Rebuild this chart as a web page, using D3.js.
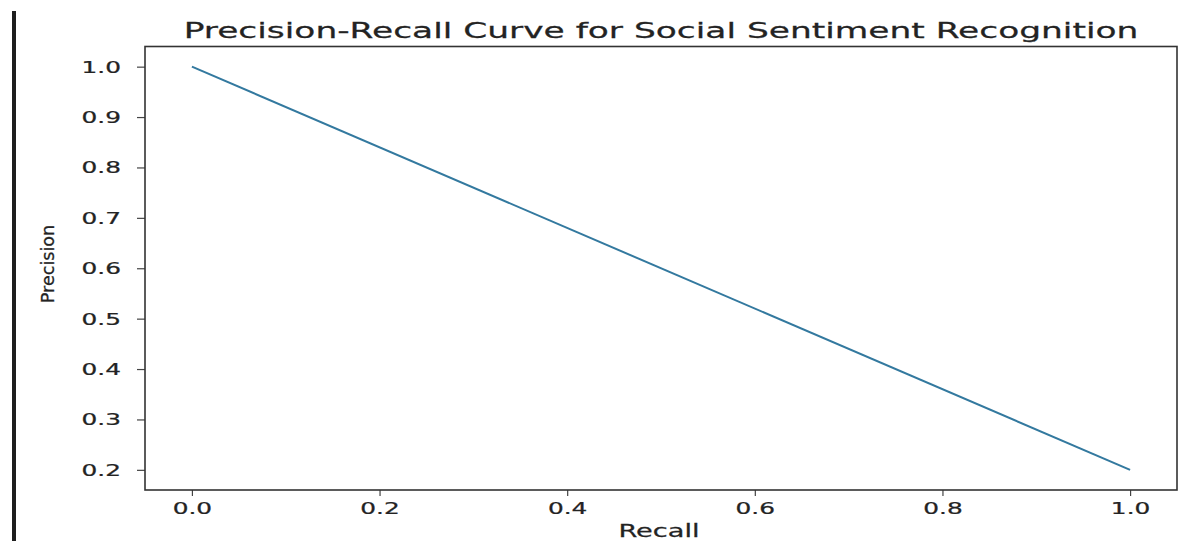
<!DOCTYPE html>
<html>
<head>
<meta charset="utf-8">
<script src="https://cdn.jsdelivr.net/npm/d3@7"></script>
<style>
  html, body { margin: 0; padding: 0; background: #fff; }
  svg { display: block; }
  text { font-family: "DejaVu Sans", sans-serif; fill: #232323; stroke: #232323; stroke-width: 0.25px; }
</style>
</head>
<body>
<svg id="chart" width="1183" height="541"></svg>
<script>
// Precision-recall curve data
const recall = [0.0, 1.0];
const precision = [1.0, 0.2];

const xTicks = [0.0, 0.2, 0.4, 0.6, 0.8, 1.0];
const yTicks = [0.2, 0.3, 0.4, 0.5, 0.6, 0.7, 0.8, 0.9, 1.0];

const titleText = "Precision-Recall Curve for Social Sentiment Recognition";
const xLabel = "Recall";
const yLabel = "Precision";

const W = 1183, H = 541;
const plot = { left: 145, right: 1177, top: 46.5, bottom: 490 };
const stretch = 1.55; // horizontal stretch applied to glyphs

const svg = d3.select("#chart");

// dark rule on the far left
svg.append("rect")
  .attr("x", 12).attr("y", 11).attr("width", 4).attr("height", H - 11)
  .attr("fill", "#1e1e1e");

// scales with 5% margins around the data range
const xPad = 0.05 * (d3.max(recall) - d3.min(recall));
const yPad = 0.05 * (d3.max(precision) - d3.min(precision));
const x = d3.scaleLinear()
  .domain([d3.min(recall) - xPad, d3.max(recall) + xPad])
  .range([plot.left, plot.right]);
const y = d3.scaleLinear()
  .domain([d3.min(precision) - yPad, d3.max(precision) + yPad])
  .range([plot.bottom, plot.top]);

const fmt = d3.format(".1f");

// x axis
const gx = svg.append("g")
  .attr("transform", `translate(0,${plot.bottom})`)
  .call(d3.axisBottom(x).tickValues(xTicks).tickFormat(fmt).tickSize(6).tickSizeOuter(0));
gx.select(".domain").remove();
gx.selectAll(".tick line").attr("stroke", "#444").attr("stroke-width", 1.2);
gx.selectAll(".tick text")
  .attr("x", 0).attr("y", 13).attr("dy", "0.71em")
  .style("font-size", "16px")
  .attr("transform", `scale(${stretch},1)`);

// y axis
const gy = svg.append("g")
  .attr("transform", `translate(${plot.left},0)`)
  .call(d3.axisLeft(y).tickValues(yTicks).tickFormat(fmt).tickSize(8).tickSizeOuter(0));
gy.select(".domain").remove();
gy.selectAll(".tick line").attr("stroke", "#444").attr("stroke-width", 1.2);
gy.selectAll(".tick text")
  .attr("x", -24 / stretch).attr("dy", "0.34em")
  .style("font-size", "16px")
  .attr("transform", `scale(${stretch},1)`);

// frame
svg.append("rect")
  .attr("x", plot.left).attr("y", plot.top)
  .attr("width", plot.right - plot.left).attr("height", plot.bottom - plot.top)
  .attr("fill", "none").attr("stroke", "#333").attr("stroke-width", 1.6);

// curve
const pts = recall.map((r, i) => [r, precision[i]]);
svg.append("path")
  .datum(pts)
  .attr("fill", "none")
  .attr("stroke", "#33799f")
  .attr("stroke-width", 2)
  .attr("d", d3.line().x(d => x(d[0])).y(d => y(d[1])));

// title
const cx = (plot.left + plot.right) / 2;
svg.append("text")
  .attr("transform", `translate(${cx},38) scale(1.565,1)`)
  .attr("text-anchor", "middle")
  .style("font-size", "22px")
  .text(titleText);

// axis labels
svg.append("text")
  .attr("transform", `translate(659,537) scale(1.6,1)`)
  .attr("text-anchor", "middle")
  .style("font-size", "17px")
  .text(xLabel);

svg.append("text")
  .attr("transform", `translate(54,264) rotate(-90) scale(1.1,1.15)`)
  .attr("text-anchor", "middle")
  .style("font-size", "16px")
  .text(yLabel);
</script>
</body>
</html>
